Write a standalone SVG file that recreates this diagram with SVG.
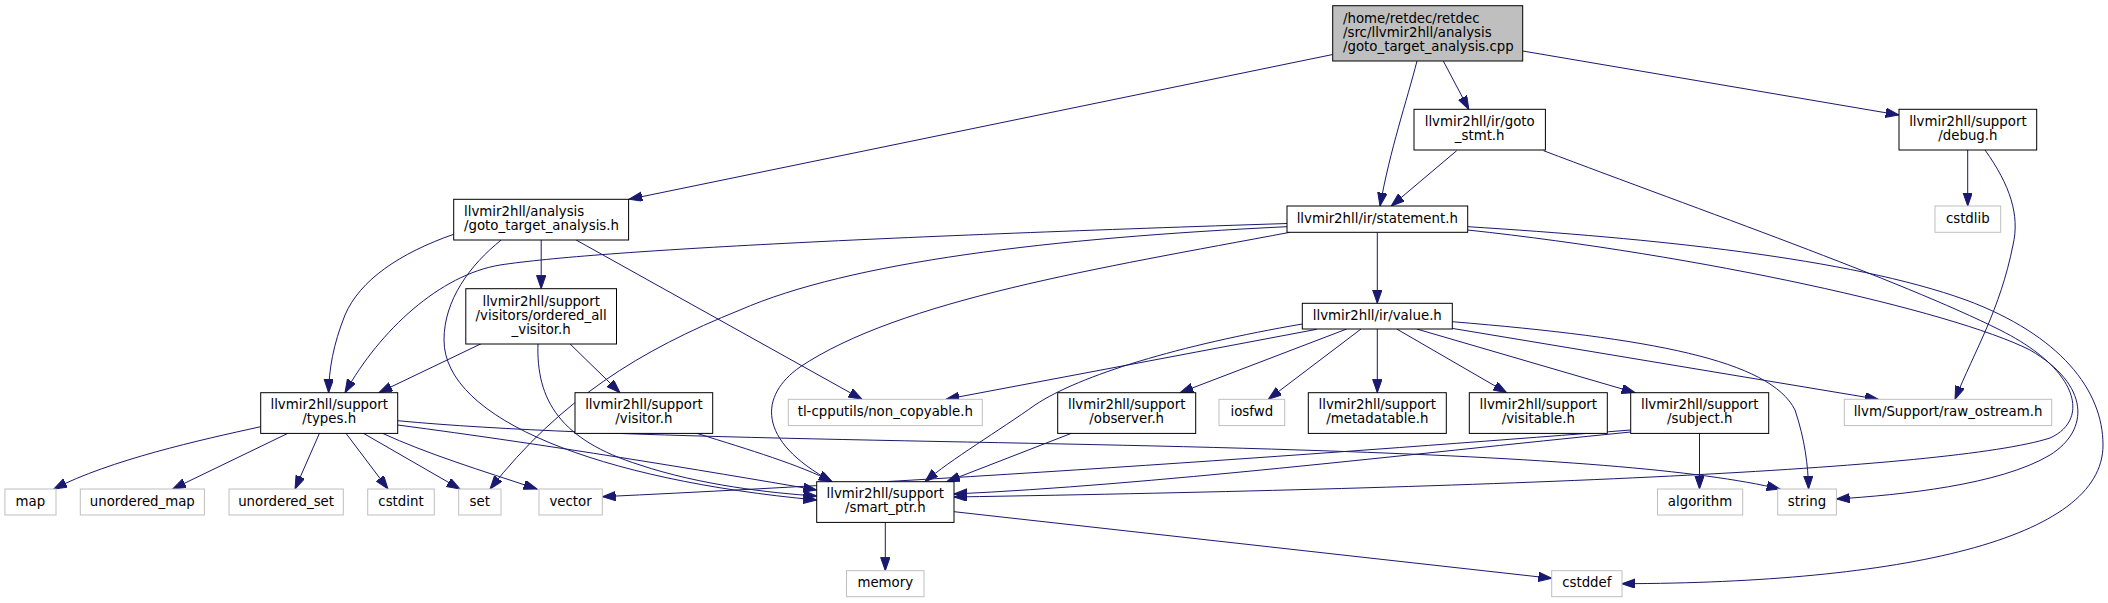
<svg xmlns="http://www.w3.org/2000/svg" width="2108" height="603" viewBox="0 0 2108 603">
<defs>
<style>
.n rect{fill:#fff;stroke:#000;stroke-width:1}
.n.g rect{stroke:#bfbfbf}
.n.r rect{fill:#bfbfbf}
text{font-family:"DejaVu Sans","Liberation Sans",sans-serif;font-size:13.33px;fill:#000}
.c{text-anchor:middle}
#edges path{fill:none;stroke:#191970;stroke-width:1;marker-end:url(#ah)}
</style>
<marker id="ah" markerUnits="userSpaceOnUse" markerWidth="14" markerHeight="10" refX="13.3" refY="4.67" orient="auto">
<path d="M0,0 L13.3,4.67 L0,9.33 Z" fill="#191970" stroke="#191970" stroke-width="1"/>
</marker>
</defs>
<rect width="2108" height="603" fill="#fff"/>
<g id="edges">
<path d="M1332.7,54.5 L629,199.3"/>
<path d="M1417,61 C1407,100 1390,150 1380,206"/>
<path d="M1443.3,61 L1468.8,109.3"/>
<path d="M1522.7,51 L1899,115"/>
<path d="M1456.7,150.7 L1391.2,206"/>
<path d="M1543.6,150.7 C1700,210 1900,280 2000,330 C2080,370 2090,420 2050,438 C1950,470 1500,488 954,497"/>
<path d="M1967.7,150 L1967.7,206"/>
<path d="M1985,150 C2010,185 2020,215 2013,245 C2000,310 1975,350 1955,399.3"/>
<path d="M541.2,240 L541.2,288.7"/>
<path d="M453.7,234.3 C400,253 360,280 345,315 C333,345 329,370 328.6,392.7"/>
<path d="M501.2,240 C470,265 444,300 444,340 C444,420 600,480 816.7,500"/>
<path d="M576.1,240 L862,399.3"/>
<path d="M482,343.3 L378.9,392.7"/>
<path d="M569.4,343.3 L620,392.7"/>
<path d="M538,343.3 C536,400 560,440 640,465 C700,485 770,493 816.7,496"/>
<path d="M696.7,433.3 C750,450 800,465 832,481.7"/>
<path d="M1377.3,232.3 L1377.3,303.3"/>
<path d="M1287,223.5 C900,236 600,250 500,265 C440,275 380,330 345,392.7"/>
<path d="M1287,226.7 C1050,238 850,262 740,310 C640,350 560,400 490,489"/>
<path d="M1290,232.3 C1100,268 900,300 800,367 C760,395 755,440 832,481.7"/>
<path d="M1467.7,230 C1700,255 1950,310 2030,350 C2090,385 2090,430 2050,455 C2000,485 1900,495 1836.4,499"/>
<path d="M1467.7,226.7 C1650,238 1850,258 1966,300 C2060,335 2103,390 2103,445 C2103,540 1900,583 1622,583.7"/>
<path d="M1316.7,329.3 L946,399.3"/>
<path d="M1302.3,324 C1180,345 1080,375 1035,405 C1000,430 950,460 925,481.7"/>
<path d="M1346.7,329 L1180,392.7"/>
<path d="M1361,329 L1268.3,399.3"/>
<path d="M1377.3,329 L1377.3,392.7"/>
<path d="M1396.7,329 L1506.7,392.7"/>
<path d="M1416.7,329 L1635,392.7"/>
<path d="M1450,328 L1878.3,399.3"/>
<path d="M1452.3,321.7 C1650,338 1770,360 1795,410 C1805,440 1808,465 1808.6,489"/>
<path d="M1073,432.7 L946.7,481.7"/>
<path d="M260.7,426.7 C200,440 110,460 53.8,489"/>
<path d="M289.2,432.7 L172.6,489"/>
<path d="M319.7,432.7 L295,489"/>
<path d="M345.5,432.7 L388,489"/>
<path d="M362.3,432.7 L460,489"/>
<path d="M381,432.7 C430,455 480,470 537,489"/>
<path d="M397.7,420.7 C600,440 1000,440 1300,450 C1550,458 1700,470 1780,489"/>
<path d="M397.7,425 C550,445 700,470 816.7,490"/>
<path d="M1630.7,430 C1400,448 1000,478 602.3,496.7"/>
<path d="M1630.7,432 C1400,455 1150,485 954,494"/>
<path d="M1699.5,432.7 L1699.5,489"/>
<path d="M885.3,522.3 L885.3,570.7"/>
<path d="M954,511.7 L1551.7,578.3"/>
</g>
<g id="n_cpp" class="n r"><rect x="1332.7" y="5.7" width="190" height="55.3"/><text x="1343" y="22.7">/home/retdec/retdec</text><text x="1343" y="36.7">/src/llvmir2hll/analysis</text><text x="1343" y="50.7">/goto_target_analysis.cpp</text></g>
<g id="n_goto_stmt" class="n"><rect x="1414" y="109.3" width="131.4" height="40.7"/><text class="c" x="1479.7" y="126.3">llvmir2hll/ir/goto</text><text class="c" x="1479.7" y="140.3">_stmt.h</text></g>
<g id="n_debug" class="n"><rect x="1899" y="109.3" width="137.7" height="40.7"/><text class="c" x="1967.9" y="126.3">llvmir2hll/support</text><text class="c" x="1967.9" y="140.3">/debug.h</text></g>
<g id="n_gta" class="n"><rect x="453.7" y="199.3" width="174.9" height="40.7"/><text x="464" y="216.3">llvmir2hll/analysis</text><text x="464" y="230.3">/goto_target_analysis.h</text></g>
<g id="n_statement" class="n"><rect x="1287" y="206" width="180.7" height="26.3"/><text class="c" x="1377.3" y="222.7">llvmir2hll/ir/statement.h</text></g>
<g id="n_cstdlib" class="n g"><rect x="1935" y="206" width="65.7" height="26.3"/><text class="c" x="1967.8" y="222.7">cstdlib</text></g>
<g id="n_ordered_all" class="n"><rect x="465.8" y="288.7" width="150.7" height="55.3"/><text class="c" x="541.2" y="305.6">llvmir2hll/support</text><text class="c" x="541.2" y="319.6">/visitors/ordered_all</text><text class="c" x="541.2" y="333.6">_visitor.h</text></g>
<g id="n_value" class="n"><rect x="1302.3" y="303.3" width="150" height="25.7"/><text class="c" x="1377.3" y="319.7">llvmir2hll/ir/value.h</text></g>
<g id="n_types" class="n"><rect x="260.7" y="392.7" width="137" height="40.7"/><text class="c" x="329.2" y="409.3">llvmir2hll/support</text><text class="c" x="329.2" y="423.3">/types.h</text></g>
<g id="n_visitor" class="n"><rect x="575" y="392.7" width="137.7" height="40.7"/><text class="c" x="643.9" y="409.3">llvmir2hll/support</text><text class="c" x="643.9" y="423.3">/visitor.h</text></g>
<g id="n_non_copyable" class="n g"><rect x="788.3" y="399.3" width="194" height="26.3"/><text class="c" x="885.3" y="416">tl-cpputils/non_copyable.h</text></g>
<g id="n_observer" class="n"><rect x="1057.7" y="392.7" width="138" height="40.7"/><text class="c" x="1126.7" y="409.3">llvmir2hll/support</text><text class="c" x="1126.7" y="423.3">/observer.h</text></g>
<g id="n_iosfwd" class="n g"><rect x="1219" y="399.3" width="65.7" height="26.3"/><text class="c" x="1251.8" y="416">iosfwd</text></g>
<g id="n_metadatable" class="n"><rect x="1308.3" y="392.7" width="138" height="40.7"/><text class="c" x="1377.3" y="409.3">llvmir2hll/support</text><text class="c" x="1377.3" y="423.3">/metadatable.h</text></g>
<g id="n_visitable" class="n"><rect x="1469.3" y="392.7" width="138" height="40.7"/><text class="c" x="1538.3" y="409.3">llvmir2hll/support</text><text class="c" x="1538.3" y="423.3">/visitable.h</text></g>
<g id="n_subject" class="n"><rect x="1630.7" y="392.7" width="138" height="40.7"/><text class="c" x="1699.7" y="409.3">llvmir2hll/support</text><text class="c" x="1699.7" y="423.3">/subject.h</text></g>
<g id="n_raw_ostream" class="n g"><rect x="1844.3" y="399.3" width="207.4" height="26.3"/><text class="c" x="1948" y="416">llvm/Support/raw_ostream.h</text></g>
<g id="n_map" class="n g"><rect x="4.9" y="489" width="51.1" height="26"/><text class="c" x="30.4" y="505.5">map</text></g>
<g id="n_unordered_map" class="n g"><rect x="80.3" y="489" width="124.1" height="26"/><text class="c" x="142.3" y="505.5">unordered_map</text></g>
<g id="n_unordered_set" class="n g"><rect x="229" y="489" width="114.3" height="26"/><text class="c" x="286.1" y="505.5">unordered_set</text></g>
<g id="n_cstdint" class="n g"><rect x="367.7" y="489" width="66.6" height="26"/><text class="c" x="401" y="505.5">cstdint</text></g>
<g id="n_set" class="n g"><rect x="458.7" y="489" width="42.3" height="26"/><text class="c" x="479.8" y="505.5">set</text></g>
<g id="n_vector" class="n g"><rect x="539" y="489" width="63.3" height="26"/><text class="c" x="570.6" y="505.5">vector</text></g>
<g id="n_smart_ptr" class="n"><rect x="816.7" y="481.7" width="137.3" height="40.7"/><text class="c" x="885.3" y="498.3">llvmir2hll/support</text><text class="c" x="885.3" y="512.3">/smart_ptr.h</text></g>
<g id="n_algorithm" class="n g"><rect x="1657.5" y="489" width="85.2" height="26"/><text class="c" x="1700" y="505.5">algorithm</text></g>
<g id="n_string" class="n g"><rect x="1777.7" y="489" width="58.7" height="26"/><text class="c" x="1807" y="505.5">string</text></g>
<g id="n_memory" class="n g"><rect x="846.5" y="570.7" width="77.5" height="26"/><text class="c" x="885.3" y="587.2">memory</text></g>
<g id="n_cstddef" class="n g"><rect x="1551.7" y="570.7" width="70.3" height="26"/><text class="c" x="1586.8" y="587.2">cstddef</text></g>
</svg>
